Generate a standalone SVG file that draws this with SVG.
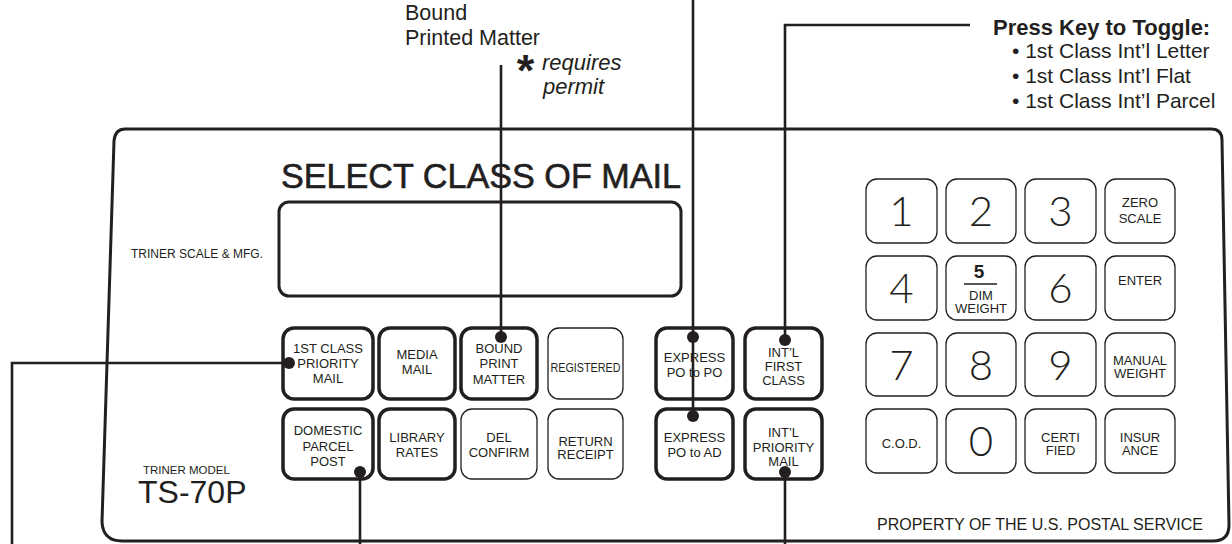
<svg xmlns="http://www.w3.org/2000/svg" width="1232" height="544" viewBox="0 0 1232 544">
<style>
.ln{stroke:#231f20;stroke-width:2.6;fill:none}
.dot{fill:#231f20}
.bt{fill:#fff;stroke:#231f20;stroke-width:3.5}
.bn{fill:#fff;stroke:#231f20;stroke-width:1.3}
.pn{fill:#fff;stroke:#231f20;stroke-width:3}
.lb{font-family:"Liberation Sans",Arial,sans-serif;font-size:13px;fill:#231f20;text-anchor:middle}
.dg{font-family:Lato,"Liberation Sans",sans-serif;font-weight:300;font-size:42px;fill:#231f20;text-anchor:middle}
.tx{font-family:"Liberation Sans",Arial,sans-serif;fill:#231f20}
</style>
<rect width="1232" height="544" fill="#fff"/>
<g id="panel">
<path class="pn" d="M125,129 H1211 Q1222,129 1222,140 L1229,525 Q1229,541 1213,541 H122 Q103,541 102,522 L114,141 Q115,129 125,129 Z"/>
<text class="tx" x="281" y="188" font-size="35" stroke="#231f20" stroke-width="0.6" textLength="400" lengthAdjust="spacingAndGlyphs">SELECT CLASS OF MAIL</text>
<rect class="pn" x="279" y="202" width="402" height="94" rx="10"/>
<text class="tx" x="131" y="258" font-size="12">TRINER SCALE &amp; MFG.</text>
<text class="tx" x="143" y="474" font-size="11.5">TRINER MODEL</text>
<text class="tx" x="138" y="503" font-size="32">TS-70P</text>
<text class="tx" x="877" y="530" font-size="16">PROPERTY OF THE U.S. POSTAL SERVICE</text>
</g>
<g id="callout-bound">
<text class="tx" x="405" y="20" font-size="21.5">Bound</text>
<text class="tx" x="405" y="45" font-size="21.5">Printed Matter</text>
<text class="tx" x="525.5" y="86" font-size="45" font-weight="bold" text-anchor="middle">*</text>
<text class="tx" x="542" y="70" font-size="22" font-style="italic">requires</text>
<text class="tx" x="543" y="94" font-size="22" font-style="italic">permit</text>
</g>
<g id="callout-toggle">
<text class="tx" x="993" y="35" font-size="22" font-weight="bold">Press Key to Toggle:</text>
<text class="tx" x="1012" y="58" font-size="21">• 1st Class Int’l Letter</text>
<text class="tx" x="1012" y="83" font-size="21">• 1st Class Int’l Flat</text>
<text class="tx" x="1012" y="108" font-size="21">• 1st Class Int’l Parcel</text>
</g>
<g id="btn-1st-class"><rect class="bt" x="283" y="328" width="90" height="71" rx="11"/>
<text class="lb" x="328" y="353">1ST CLASS</text><text class="lb" x="328" y="368">PRIORITY</text><text class="lb" x="328" y="383">MAIL</text></g>
<g id="btn-media"><rect class="bt" x="379" y="328" width="76" height="71" rx="11"/>
<text class="lb" x="417" y="359">MEDIA</text><text class="lb" x="417" y="374">MAIL</text></g>
<g id="btn-bound"><rect class="bt" x="461" y="328" width="76" height="71" rx="11"/>
<text class="lb" x="499" y="353">BOUND</text><text class="lb" x="499" y="368">PRINT</text><text class="lb" x="499" y="384">MATTER</text></g>
<g id="btn-registered"><rect class="bn" x="548" y="328" width="75" height="71" rx="11"/>
<text class="lb" x="585.5" y="372" textLength="70" lengthAdjust="spacingAndGlyphs">REGISTERED</text></g>
<g id="btn-express-po"><rect class="bt" x="656" y="328" width="77" height="71" rx="11"/>
<text class="lb" x="694.5" y="362">EXPRESS</text><text class="lb" x="694.5" y="377">PO to PO</text></g>
<g id="btn-intl-first"><rect class="bt" x="745" y="328" width="77" height="71" rx="11"/>
<text class="lb" x="783.5" y="357">INT’L</text><text class="lb" x="783.5" y="371">FIRST</text><text class="lb" x="783.5" y="385">CLASS</text></g>
<g id="btn-domestic"><rect class="bt" x="283" y="409" width="90" height="70" rx="11"/>
<text class="lb" x="328" y="435">DOMESTIC</text><text class="lb" x="328" y="451">PARCEL</text><text class="lb" x="328" y="466">POST</text></g>
<g id="btn-library"><rect class="bt" x="379" y="409" width="76" height="70" rx="11"/>
<text class="lb" x="417" y="442">LIBRARY</text><text class="lb" x="417" y="457">RATES</text></g>
<g id="btn-del"><rect class="bn" x="461" y="409" width="76" height="70" rx="11"/>
<text class="lb" x="499" y="442">DEL</text><text class="lb" x="499" y="457">CONFIRM</text></g>
<g id="btn-return"><rect class="bn" x="548" y="409" width="75" height="70" rx="11"/>
<text class="lb" x="585.5" y="446">RETURN</text><text class="lb" x="585.5" y="459">RECEIPT</text></g>
<g id="btn-express-ad"><rect class="bt" x="656" y="409" width="77" height="70" rx="11"/>
<text class="lb" x="694.5" y="442">EXPRESS</text><text class="lb" x="694.5" y="457">PO to AD</text></g>
<g id="btn-intl-priority"><rect class="bt" x="745" y="409" width="77" height="70" rx="11"/>
<text class="lb" x="783.5" y="437">INT’L</text><text class="lb" x="783.5" y="452">PRIORITY</text><text class="lb" x="783.5" y="466">MAIL</text></g>
<g id="key-1"><rect class="bn" x="866" y="179" width="71" height="64" rx="11"/><text class="dg" x="901.5" y="226">1</text></g>
<g id="key-2"><rect class="bn" x="946" y="179" width="70" height="64" rx="11"/><text class="dg" x="981" y="226">2</text></g>
<g id="key-3"><rect class="bn" x="1025" y="179" width="71" height="64" rx="11"/><text class="dg" x="1060.5" y="226">3</text></g>
<g id="key-zero"><rect class="bn" x="1105" y="179" width="70" height="64" rx="11"/><text class="lb" x="1140" y="207">ZERO</text><text class="lb" x="1140" y="223">SCALE</text></g>
<g id="key-4"><rect class="bn" x="866" y="256" width="71" height="64" rx="11"/><text class="dg" x="901.5" y="303">4</text></g>
<g id="key-5"><rect class="bn" x="946" y="256" width="70" height="64" rx="11"/><text class="tx" x="979" y="278" font-size="19" font-weight="bold" text-anchor="middle">5</text><line x1="964" y1="284" x2="997" y2="284" stroke="#231f20" stroke-width="1.5"/><text class="lb" x="981" y="300" font-size="12.5">DIM</text><text class="lb" x="981" y="313" font-size="12.5">WEIGHT</text></g>
<g id="key-6"><rect class="bn" x="1025" y="256" width="71" height="64" rx="11"/><text class="dg" x="1060.5" y="303">6</text></g>
<g id="key-enter"><rect class="bn" x="1105" y="256" width="70" height="64" rx="11"/><text class="lb" x="1140" y="285">ENTER</text></g>
<g id="key-7"><rect class="bn" x="866" y="333" width="71" height="63" rx="11"/><text class="dg" x="901.5" y="380">7</text></g>
<g id="key-8"><rect class="bn" x="946" y="333" width="70" height="63" rx="11"/><text class="dg" x="981" y="380">8</text></g>
<g id="key-9"><rect class="bn" x="1025" y="333" width="71" height="63" rx="11"/><text class="dg" x="1060.5" y="380">9</text></g>
<g id="key-manual"><rect class="bn" x="1105" y="333" width="70" height="63" rx="11"/><text class="lb" x="1140" y="365">MANUAL</text><text class="lb" x="1140" y="378">WEIGHT</text></g>
<g id="key-cod"><rect class="bn" x="866" y="409" width="71" height="64" rx="11"/><text class="lb" x="901.5" y="448">C.O.D.</text></g>
<g id="key-0"><rect class="bn" x="946" y="409" width="70" height="64" rx="11"/><text class="dg" x="981" y="456">0</text></g>
<g id="key-certified"><rect class="bn" x="1025" y="409" width="71" height="64" rx="11"/><text class="lb" x="1060.5" y="442">CERTI</text><text class="lb" x="1060.5" y="455">FIED</text></g>
<g id="key-insurance"><rect class="bn" x="1105" y="409" width="70" height="64" rx="11"/><text class="lb" x="1140" y="442">INSUR</text><text class="lb" x="1140" y="455">ANCE</text></g>
<g id="connectors">
<polyline class="ln" points="289,363 12,363 12,544"/>
<line class="ln" x1="501" y1="65" x2="501" y2="337"/>
<line class="ln" x1="693" y1="0" x2="693" y2="416"/>
<polyline class="ln" points="785,340 785,25 970,25"/>
<line class="ln" x1="360" y1="472" x2="360" y2="544"/>
<line class="ln" x1="785" y1="472" x2="785" y2="544"/>
<circle class="dot" cx="289" cy="363" r="6"/>
<circle class="dot" cx="501" cy="337" r="6"/>
<circle class="dot" cx="693" cy="337" r="6"/>
<circle class="dot" cx="693" cy="416" r="6"/>
<circle class="dot" cx="785" cy="340" r="6"/>
<circle class="dot" cx="360" cy="472" r="6"/>
<circle class="dot" cx="785" cy="472" r="6"/>
</g>
</svg>
